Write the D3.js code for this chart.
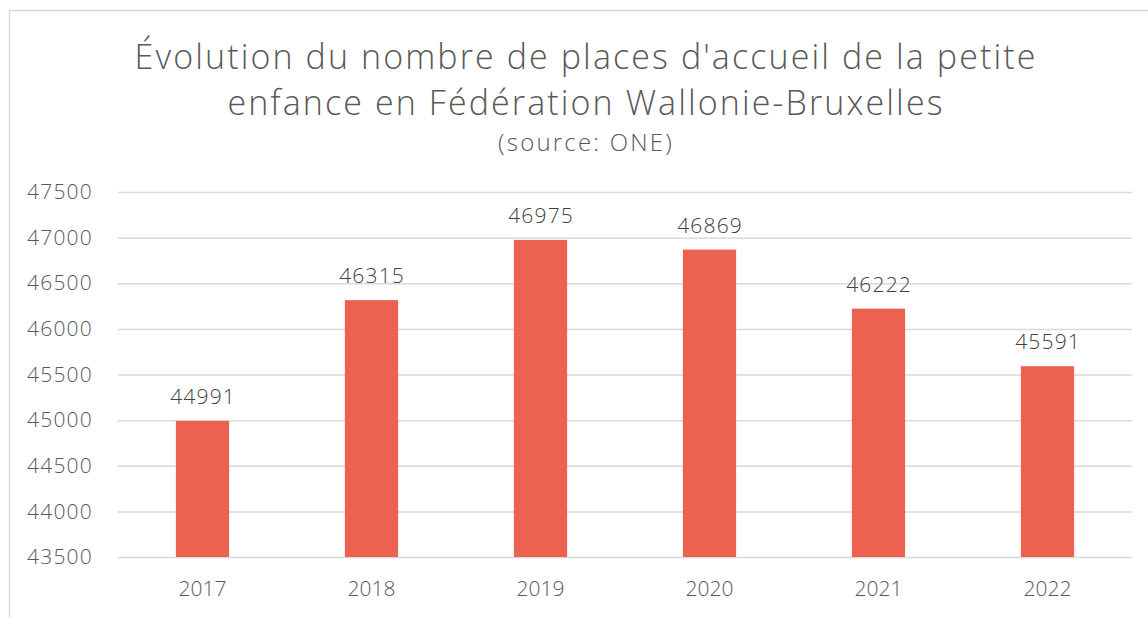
<!doctype html>
<html lang="fr">
<head>
    <meta charset="utf-8">
    <title>Places d'accueil petite enfance</title>
    <script src="https://cdn.jsdelivr.net/npm/d3@7"></script>
    <style>
        body { margin: 0; background: #ffffff; }
        svg { display: block; }
        text { font-family: "Open Sans", Lato, sans-serif; font-weight: 300; font-variant-ligatures: none; }
    </style>
</head>
<body>
    <svg></svg>
    <script>
        var years = ['2017', '2018', '2019', '2020', '2021', '2022'];
        var places = [44991, 46315, 46975, 46869, 46222, 45591];
        var yTicks = [43500, 44000, 44500, 45000, 45500, 46000, 46500, 47000, 47500];

        var width = 1148;
        var height = 617;
        var plotLeft = 118, plotRight = 1132, plotTop = 192, plotBottom = 557;

        var svg = d3.select('svg').attr('width', width).attr('height', height);

        // chart frame
        svg.append('rect')
            .attr('x', 9.5).attr('y', 10.5)
            .attr('width', 1160).attr('height', 640)
            .attr('fill', 'white')
            .attr('stroke', '#d9d9d9')
            .attr('stroke-width', 1.5);

        // title
        var title = svg.append('text')
            .attr('text-anchor', 'middle')
            .attr('fill', '#595959')
            .attr('font-size', 34)
            .attr('letter-spacing', 2.1);
        title.append('tspan').attr('x', 586).attr('y', 69).text("Évolution du nombre de places d'accueil de la petite");
        title.append('tspan').attr('x', 586).attr('y', 115).text("enfance en Fédération Wallonie-Bruxelles");
        svg.append('text')
            .attr('x', 586).attr('y', 151)
            .attr('text-anchor', 'middle')
            .attr('fill', '#595959')
            .attr('font-size', 24)
            .attr('letter-spacing', 2.2)
            .text('(source: ONE)');

        var x = d3.scaleBand()
            .domain(years)
            .range([plotLeft, plotRight])
            .paddingInner(0.685)
            .paddingOuter(0.3425);

        var y = d3.scaleLinear()
            .domain([43500, 47500])
            .range([plotBottom, plotTop]);

        // gridlines + y labels
        var yAxis = d3.axisLeft(y).tickValues(yTicks).tickSize(-(plotRight - plotLeft)).tickPadding(25).tickFormat(d3.format('d'));
        var gy = svg.append('g')
            .attr('transform', 'translate(' + plotLeft + ',0)')
            .call(yAxis);
        gy.select('.domain').remove();
        gy.selectAll('line').attr('stroke', '#d9d9d9').attr('stroke-width', 1.5);
        gy.selectAll('text').attr('fill', '#595959').attr('font-size', 21).attr('font-family', null)
            .attr('letter-spacing', 1.2);

        // bars
        svg.append('g')
            .selectAll('rect')
            .data(places)
            .enter()
            .append('rect')
            .attr('x', function (d, i) { return x(years[i]); })
            .attr('y', function (d) { return y(d); })
            .attr('width', x.bandwidth())
            .attr('height', function (d) { return y(43500) - y(d); })
            .attr('fill', '#ec614f');

        // value labels
        svg.append('g')
            .selectAll('text')
            .data(places)
            .enter()
            .append('text')
            .attr('x', function (d, i) { return x(years[i]) + x.bandwidth() / 2 + 0.6; })
            .attr('y', function (d) { return y(d) - 17; })
            .attr('text-anchor', 'middle')
            .attr('fill', '#404040')
            .attr('font-size', 21)
            .attr('letter-spacing', 1.2)
            .text(function (d) { return d; });

        // x axis
        var xAxis = d3.axisBottom(x).tickSize(0).tickPadding(24);
        var gx = svg.append('g')
            .attr('transform', 'translate(0,' + plotBottom + ')')
            .call(xAxis);
        gx.select('.domain').remove();
        gx.selectAll('text').attr('fill', '#595959').attr('font-size', 21).attr('font-family', null);
    </script>
</body>
</html>
